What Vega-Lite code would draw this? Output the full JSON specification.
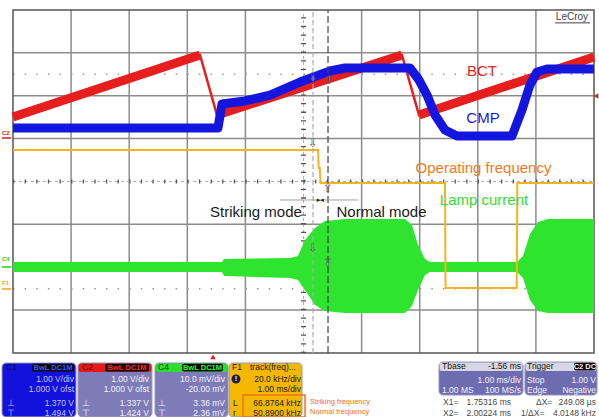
{
"$schema": "https://vega.github.io/schema/vega-lite/v6.json",
"width": 599, "height": 417, "padding": 0,
"autosize": {"type": "none", "contains": "padding"},
"background": "white",
"config": {"view": {"stroke": null}},
"encoding": {
 "x": {"field": "x", "type": "quantitative", "scale": {"domain": [-0.2238, 10.086], "nice": false, "zero": false}, "axis": null},
 "y": {"field": "y", "type": "quantitative", "scale": {"domain": [-5.4927, 4.2332], "nice": false, "zero": false}, "axis": null}
},
"layer": [
 {"data": {"values": [
   {"x":1,"y":-4,"x2":1,"y2":4},{"x":2,"y":-4,"x2":2,"y2":4},{"x":3,"y":-4,"x2":3,"y2":4},{"x":4,"y":-4,"x2":4,"y2":4},
   {"x":6,"y":-4,"x2":6,"y2":4},{"x":7,"y":-4,"x2":7,"y2":4},{"x":8,"y":-4,"x2":8,"y2":4},{"x":9,"y":-4,"x2":9,"y2":4},
   {"x":0,"y":-3,"x2":10,"y2":-3},{"x":0,"y":-2,"x2":10,"y2":-2},{"x":0,"y":-1,"x2":10,"y2":-1},
   {"x":0,"y":1,"x2":10,"y2":1},{"x":0,"y":2,"x2":10,"y2":2},{"x":0,"y":3,"x2":10,"y2":3}]},
  "mark": {"type": "rule", "color": "#8c8c8c", "strokeWidth": 1.5},
  "encoding": {"x2": {"field": "x2"}, "y2": {"field": "y2"}}},
 {"data": {"values": [{"x":0,"y":2.5,"x2":10,"y2":2.5},{"x":0,"y":-2.5,"x2":10,"y2":-2.5}]},
  "mark": {"type": "rule", "color": "#999999", "strokeWidth": 1.5, "strokeDash": [1.5, 10.12]},
  "encoding": {"x2": {"field": "x2"}, "y2": {"field": "y2"}}},
 {"data": {"values": [{"x":0,"y":0,"x2":10,"y2":0},{"x":5,"y":-4,"x2":5,"y2":4}]},
  "mark": {"type": "rule", "color": "#b0b0b0", "strokeWidth": 1, "strokeDash": [3, 3]},
  "encoding": {"x2": {"field": "x2"}, "y2": {"field": "y2"}}},
 {"data": {"values": [{"x":0,"y":0,"x2":10,"y2":0}]},
  "mark": {"type": "rule", "color": "#555555", "strokeWidth": 4, "strokeDash": [1.3, 10.32]},
  "encoding": {"x2": {"field": "x2"}, "y2": {"field": "y2"}}},
 {"data": {"values": [{"x":5,"y":-4,"x2":5,"y2":4}]},
  "mark": {"type": "rule", "color": "#555555", "strokeWidth": 5, "strokeDash": [1.3, 7.275]},
  "encoding": {"x2": {"field": "x2"}, "y2": {"field": "y2"}}},
 {"data": {"values": [{"x":0,"y":-4,"x2":10,"y2":4}]},
  "mark": {"type": "rect", "filled": false, "color": "#555555", "strokeWidth": 1.5},
  "encoding": {"x2": {"field": "x2"}, "y2": {"field": "y2"}}},
 {"data": {"values": [
   {"x":0,"y":-1.878,"y2":-2.111},{"x":3.597,"y":-1.878,"y2":-2.111},{"x":3.632,"y":-1.808,"y2":-2.204},
   {"x":4.768,"y":-1.784,"y2":-2.251},{"x":4.905,"y":-1.738,"y2":-2.297},{"x":5.026,"y":-1.364,"y2":-2.531},
   {"x":5.198,"y":-1.085,"y2":-2.88},{"x":5.37,"y":-0.921,"y2":-3.02},{"x":5.714,"y":-0.875,"y2":-3.067},
   {"x":6.747,"y":-0.875,"y2":-3.067},{"x":6.867,"y":-1.015,"y2":-2.904},{"x":6.971,"y":-1.481,"y2":-2.531},
   {"x":7.091,"y":-1.808,"y2":-2.181},{"x":7.177,"y":-1.878,"y2":-2.111},{"x":8.675,"y":-1.878,"y2":-2.111},
   {"x":8.778,"y":-1.738,"y2":-2.251},{"x":8.898,"y":-1.224,"y2":-2.764},{"x":9.036,"y":-0.945,"y2":-3.02},
   {"x":9.208,"y":-0.875,"y2":-3.067},{"x":10,"y":-0.875,"y2":-3.067}]},
  "mark": {"type": "area", "color": "#2fe42f"},
  "encoding": {"y2": {"field": "y2"}}},
 {"data": {"name": "bct", "values": [
   {"x":0,"y":1.504,"s":"r1"},{"x":3.219,"y":2.95,"s":"r1"},
   {"x":3.511,"y":1.55,"s":"r2"},{"x":6.695,"y":2.95,"s":"r2"},
   {"x":6.988,"y":1.55,"s":"r3"},{"x":10,"y":2.904,"s":"r3"}]},
  "mark": {"type": "line", "color": "#e61e1e", "strokeWidth": 2.5},
  "encoding": {}},
 {"data": {"name": "bct"},
  "mark": {"type": "line", "color": "#e61e1e", "strokeWidth": 9},
  "encoding": {"detail": {"field": "s"}}},
 {"data": {"values": [
   {"x":0,"y":1.248},{"x":3.528,"y":1.248},{"x":3.597,"y":1.808},{"x":3.993,"y":1.878},{"x":4.423,"y":2.017},
   {"x":4.94,"y":2.32},{"x":5.456,"y":2.577},{"x":5.714,"y":2.647},{"x":6.833,"y":2.647},{"x":6.988,"y":2.367},
   {"x":7.126,"y":2.017},{"x":7.264,"y":1.551},{"x":7.435,"y":1.201},{"x":7.642,"y":1.061},{"x":8.589,"y":1.061},
   {"x":8.761,"y":1.668},{"x":8.898,"y":2.251},{"x":9.019,"y":2.554},{"x":9.191,"y":2.624},{"x":10,"y":2.624}]},
  "mark": {"type": "line", "color": "#1515e0", "strokeWidth": 9, "strokeJoin": "round"},
  "encoding": {}},
 {"data": {"values": [
   {"x":0,"y":0.735},{"x":5.25,"y":0.735},{"x":5.262,"y":0.315},{"x":5.28,"y":0.315},{"x":5.292,"y":-0.035},
   {"x":7.435,"y":-0.035},{"x":7.445,"y":-2.484},{"x":8.67,"y":-2.484},{"x":8.68,"y":-0.035},{"x":10,"y":-0.035}]},
  "mark": {"type": "line", "color": "#f5b41e", "strokeWidth": 2},
  "encoding": {}},
 {"data": {"values": [{"x":5.164,"y":-4,"x2":5.164,"y2":4}]},
  "mark": {"type": "rule", "color": "#aaaaaa", "strokeWidth": 1.2, "strokeDash": [5, 3]},
  "encoding": {"x2": {"field": "x2"}, "y2": {"field": "y2"}}},
 {"data": {"values": [{"x":5.422,"y":-4,"x2":5.422,"y2":4}]},
  "mark": {"type": "rule", "color": "#444444", "strokeWidth": 1.2, "strokeDash": [7, 3]},
  "encoding": {"x2": {"field": "x2"}, "y2": {"field": "y2"}}},
 {"data": {"values": [{"x":4.596,"y":-0.431,"x2":5.938,"y2":-0.431}]},
  "mark": {"type": "rule", "color": "#a0a0a0", "strokeWidth": 1},
  "encoding": {"x2": {"field": "x2"}, "y2": {"field": "y2"}}},
 {"data": {"values": [{"x":5.29,"y":-0.431,"t":"▸◂"}]},
  "mark": {"type": "text", "color": "#222222", "fontSize": 7, "align": "center", "baseline": "middle", "font": "DejaVu Sans"},
  "encoding": {"text": {"field": "t"}}},
 {"data": {"values": [
   {"x":5.164,"y":2.437,"t":"⇩"},{"x":5.439,"y":2.367,"t":"⇧"},{"x":5.164,"y":0.898,"t":"⇩"},
   {"x":5.422,"y":-0.152,"t":"⇧"},{"x":5.164,"y":-1.551,"t":"⇩"},{"x":5.422,"y":-1.878,"t":"⇧"}]},
  "mark": {"type": "text", "color": "#666666", "fontSize": 12, "align": "center", "baseline": "middle", "font": "DejaVu Sans"},
  "encoding": {"text": {"field": "t"}}},
 {"data": {"values": [
   {"x":8.072,"y":2.577,"t":"BCT","c":"bct"},{"x":8.09,"y":1.481,"t":"CMP","c":"cmp"},
   {"x":8.098,"y":0.315,"t":"Operating frequency","c":"opf"},{"x":8.107,"y":-0.431,"t":"Lamp current","c":"lamp"},
   {"x":4.182,"y":-0.711,"t":"Striking mode","c":"mode"},{"x":6.343,"y":-0.711,"t":"Normal mode","c":"mode"}]},
  "mark": {"type": "text", "fontSize": 15, "align": "center", "baseline": "middle", "font": "Liberation Sans"},
  "encoding": {"text": {"field": "t"}, "color": {"field": "c", "type": "nominal", "legend": null,
   "scale": {"domain": ["dk","wht","ltb","blu","red","grn","org","gry","cn1","cn2","cn4","lec","bct","cmp","opf","lamp","mode","chr","chg","cho"],
             "range": ["#201800","#f2f2fa","#c4c4ff","#3a5cff","#ff2a2a","#2cff2c","#f07020","#4a4a4a","#000060","#600000","#004400","#444444","#e61e1e","#1a1ad6","#f47a22","#33dd33","#1a1a1a","#e02020","#22cc22","#f0a020"]}}}},
 {"data": {"values": [
   {"x":-0.19,"y":1.13,"t":"C2","c":"chr"},{"x":-0.19,"y":-1.808,"t":"C4","c":"chg"},{"x":-0.19,"y":-2.367,"t":"F1","c":"cho"}]},
  "mark": {"type": "text", "fontSize": 6, "fontWeight": "bold", "align": "left", "baseline": "middle", "font": "Liberation Sans"},
  "encoding": {"text": {"field": "t"}, "color": {"field": "c", "type": "nominal", "legend": null,
   "scale": {"domain": ["dk","wht","ltb","blu","red","grn","org","gry","cn1","cn2","cn4","lec","bct","cmp","opf","lamp","mode","chr","chg","cho"],
             "range": ["#201800","#f2f2fa","#c4c4ff","#3a5cff","#ff2a2a","#2cff2c","#f07020","#4a4a4a","#000060","#600000","#004400","#444444","#e61e1e","#1a1ad6","#f47a22","#33dd33","#1a1a1a","#e02020","#22cc22","#f0a020"]}}}},
 {"data": {"values": [
   {"x":-0.19,"y":1.015,"x2":-0.03,"y2":1.015,"c":"chr"},{"x":-0.19,"y":-1.994,"x2":-0.03,"y2":-1.994,"c":"chg"},
   {"x":-0.19,"y":-2.507,"x2":-0.03,"y2":-2.507,"c":"cho"}]},
  "mark": {"type": "rule", "strokeWidth": 1.5},
  "encoding": {"x2": {"field": "x2"}, "y2": {"field": "y2"}, "color": {"field": "c", "type": "nominal", "legend": null,
   "scale": {"domain": ["dk","wht","ltb","blu","red","grn","org","gry","cn1","cn2","cn4","lec","bct","cmp","opf","lamp","mode","chr","chg","cho"],
             "range": ["#201800","#f2f2fa","#c4c4ff","#3a5cff","#ff2a2a","#2cff2c","#f07020","#4a4a4a","#000060","#600000","#004400","#444444","#e61e1e","#1a1ad6","#f47a22","#33dd33","#1a1a1a","#e02020","#22cc22","#f0a020"]}}}},
 {"data": {"values": [{"x":10.034,"y":1.994}]},
  "mark": {"type": "point", "shape": "triangle-left", "filled": true, "color": "#e61e1e", "size": 30, "opacity": 1},
  "encoding": {}},
 {"data": {"values": [{"x":3.442,"y":-4.093}]},
  "mark": {"type": "point", "shape": "triangle-up", "filled": true, "color": "#e61e1e", "size": 30, "opacity": 1},
  "encoding": {}},
 {"data": {"values": [{"x":9.621,"y":3.837,"t":"LeCroy","c":"lec"}]},
  "mark": {"type": "text", "fontSize": 10, "align": "center", "baseline": "middle", "font": "Liberation Sans"},
  "encoding": {"text": {"field": "t"}, "color": {"field": "c", "type": "nominal", "legend": null,
   "scale": {"domain": ["dk","wht","ltb","blu","red","grn","org","gry","cn1","cn2","cn4","lec","bct","cmp","opf","lamp","mode","chr","chg","cho"],
             "range": ["#201800","#f2f2fa","#c4c4ff","#3a5cff","#ff2a2a","#2cff2c","#f07020","#4a4a4a","#000060","#600000","#004400","#444444","#e61e1e","#1a1ad6","#f47a22","#33dd33","#1a1a1a","#e02020","#22cc22","#f0a020"]}}}},
 {"data": {"values": [{"x":9.33,"y":3.7,"x2":9.93,"y2":3.7}]},
  "mark": {"type": "rule", "color": "#444444", "strokeWidth": 1},
  "encoding": {"x2": {"field": "x2"}, "y2": {"field": "y2"}}},
 {"data": {"values": [
   {"x":-0.189,"x2":1.084,"y":-4.233,"y2":-5.49,"f":"c1"},
   {"x":1.119,"x2":2.392,"y":-4.233,"y2":-5.49,"f":"body"},
   {"x":2.444,"x2":3.701,"y":-4.233,"y2":-5.49,"f":"body"},
   {"x":3.718,"x2":4.974,"y":-4.233,"y2":-5.49,"f":"f1"},
   {"x":7.332,"x2":8.778,"y":-4.21,"y2":-4.98,"f":"body2"},
   {"x":8.812,"x2":10.052,"y":-4.21,"y2":-4.98,"f":"body2"}]},
  "mark": {"type": "rect", "cornerRadius": 4, "stroke": "#9a98b8", "strokeWidth": 1},
  "encoding": {"x2": {"field": "x2"}, "y2": {"field": "y2"}, "fill": {"field": "f", "type": "nominal", "legend": null,
   "scale": {"domain": ["c1","body","c2","c4","f1","body2","head","black"], "range": ["#1212dc","#7e7cb8","#e41a1a","#2ede2e","#f5b800","#6e6cb0","#d6d6e4","#050505"]}}}},
 {"data": {"values": [
   {"x":1.13,"x2":2.381,"y":-4.245,"y2":-4.443,"f":"c2"},
   {"x":2.455,"x2":3.69,"y":-4.245,"y2":-4.443,"f":"c4"},
   {"x":7.343,"x2":8.767,"y":-4.222,"y2":-4.42,"f":"head"},
   {"x":8.823,"x2":10.041,"y":-4.222,"y2":-4.42,"f":"head"},
   {"x":0.327,"x2":1.05,"y":-4.25,"y2":-4.43,"f":"black"},
   {"x":1.583,"x2":2.341,"y":-4.25,"y2":-4.43,"f":"black"},
   {"x":2.909,"x2":3.614,"y":-4.25,"y2":-4.43,"f":"black"},
   {"x":9.656,"x2":10.03,"y":-4.23,"y2":-4.41,"f":"black"}]},
  "mark": {"type": "rect", "cornerRadius": 2},
  "encoding": {"x2": {"field": "x2"}, "y2": {"field": "y2"}, "fill": {"field": "f", "type": "nominal", "legend": null,
   "scale": {"domain": ["c1","body","c2","c4","f1","body2","head","black"], "range": ["#1212dc","#7e7cb8","#e41a1a","#2ede2e","#f5b800","#6e6cb0","#d6d6e4","#050505"]}}}},
 {"data": {"values": [{"x":3.959,"x2":5.026,"y":-4.98,"y2":-5.49}]},
  "mark": {"type": "rect", "filled": false, "color": "#f07020", "strokeWidth": 1.5},
  "encoding": {"x2": {"field": "x2"}, "y2": {"field": "y2"}}},
 {"data": {"values": [{"x":3.838,"y":-4.606}]},
  "mark": {"type": "point", "shape": "circle", "filled": true, "color": "#1a1a50", "size": 80, "opacity": 1},
  "encoding": {}},
 {"data": {"values": [
   {"x":-0.12,"y":-4.327,"t":"C1","c":"cn1"},{"x":1.188,"y":-4.327,"t":"C2","c":"cn2"},{"x":2.496,"y":-4.327,"t":"C4","c":"cn4"},
   {"x":3.769,"y":-4.327,"t":"F1","c":"dk"},{"x":4.079,"y":-4.327,"t":"track(freq)...","c":"dk"},
   {"x":-0.103,"y":-5.166,"t":"⊥","c":"ltb"},{"x":-0.103,"y":-5.399,"t":"⊤","c":"ltb"},
   {"x":1.188,"y":-5.166,"t":"⊥","c":"wht"},{"x":1.188,"y":-5.399,"t":"⊤","c":"wht"},
   {"x":2.496,"y":-5.166,"t":"⊥","c":"wht"},{"x":2.496,"y":-5.399,"t":"⊤","c":"wht"},
   {"x":3.787,"y":-5.166,"t":"L","c":"dk"},{"x":3.787,"y":-5.399,"t":"r","c":"dk"},
   {"x":7.384,"y":-4.303,"t":"Tbase","c":"dk"},{"x":7.384,"y":-4.863,"t":"1.00 MS","c":"wht"},
   {"x":8.847,"y":-4.303,"t":"Trigger","c":"dk"},{"x":8.847,"y":-4.63,"t":"Stop","c":"wht"},{"x":8.847,"y":-4.863,"t":"Edge","c":"wht"},
   {"x":7.401,"y":-5.143,"t":"X1=","c":"gry"},{"x":7.401,"y":-5.399,"t":"X2=","c":"gry"},
   {"x":9.002,"y":-5.143,"t":"ΔX=","c":"gry"},{"x":8.744,"y":-5.399,"t":"1/ΔX=","c":"gry"}]},
  "mark": {"type": "text", "fontSize": 8.5, "align": "left", "baseline": "middle", "font": "Liberation Sans"},
  "encoding": {"text": {"field": "t"}, "color": {"field": "c", "type": "nominal", "legend": null,
   "scale": {"domain": ["dk","wht","ltb","blu","red","grn","org","gry","cn1","cn2","cn4","lec","bct","cmp","opf","lamp","mode","chr","chg","cho"],
             "range": ["#201800","#f2f2fa","#c4c4ff","#3a5cff","#ff2a2a","#2cff2c","#f07020","#4a4a4a","#000060","#600000","#004400","#444444","#e61e1e","#1a1ad6","#f47a22","#33dd33","#1a1a1a","#e02020","#22cc22","#f0a020"]}}}},
 {"data": {"values": [
   {"x":1.05,"y":-4.606,"t":"1.00 V/div","c":"ltb"},{"x":1.05,"y":-4.84,"t":"1.000 V ofst","c":"ltb"},
   {"x":1.05,"y":-5.166,"t":"1.370 V","c":"ltb"},{"x":1.05,"y":-5.399,"t":"1.494 V","c":"ltb"},
   {"x":2.341,"y":-4.606,"t":"1.00 V/div","c":"wht"},{"x":2.341,"y":-4.84,"t":"1.000 V ofst","c":"wht"},
   {"x":2.341,"y":-5.166,"t":"1.337 V","c":"wht"},{"x":2.341,"y":-5.399,"t":"1.424 V","c":"wht"},
   {"x":3.649,"y":-4.606,"t":"10.0 mV/div","c":"wht"},{"x":3.649,"y":-4.84,"t":"-20.00 mV","c":"wht"},
   {"x":3.649,"y":-5.166,"t":"3.36 mV","c":"wht"},{"x":3.649,"y":-5.399,"t":"2.36 mV","c":"wht"},
   {"x":4.957,"y":-4.606,"t":"20.0 kHz/div","c":"dk"},{"x":4.957,"y":-4.84,"t":"1.00 ms/div","c":"dk"},
   {"x":4.957,"y":-5.166,"t":"66.8764 kHz","c":"dk"},{"x":4.957,"y":-5.399,"t":"50.8900 kHz","c":"dk"},
   {"x":8.744,"y":-4.303,"t":"-1.56 ms","c":"dk"},{"x":8.744,"y":-4.63,"t":"1.00 ms/div","c":"wht"},{"x":8.744,"y":-4.863,"t":"100 MS/s","c":"wht"},
   {"x":10.034,"y":-4.63,"t":"1.00 V","c":"wht"},{"x":10.034,"y":-4.863,"t":"Negative","c":"wht"},
   {"x":8.571,"y":-5.143,"t":"1.75316 ms","c":"gry"},{"x":8.571,"y":-5.399,"t":"2.00224 ms","c":"gry"},
   {"x":10.034,"y":-5.143,"t":"249.08 µs","c":"gry"},{"x":10.034,"y":-5.399,"t":"4.0148 kHz","c":"gry"}]},
  "mark": {"type": "text", "fontSize": 8.5, "align": "right", "baseline": "middle", "font": "Liberation Sans"},
  "encoding": {"text": {"field": "t"}, "color": {"field": "c", "type": "nominal", "legend": null,
   "scale": {"domain": ["dk","wht","ltb","blu","red","grn","org","gry","cn1","cn2","cn4","lec","bct","cmp","opf","lamp","mode","chr","chg","cho"],
             "range": ["#201800","#f2f2fa","#c4c4ff","#3a5cff","#ff2a2a","#2cff2c","#f07020","#4a4a4a","#000060","#600000","#004400","#444444","#e61e1e","#1a1ad6","#f47a22","#33dd33","#1a1a1a","#e02020","#22cc22","#f0a020"]}}}},
 {"data": {"values": [
   {"x":0.688,"y":-4.34,"t":"BwL DC1M","c":"blu"},{"x":1.962,"y":-4.34,"t":"BwL DC1M","c":"red"},
   {"x":3.261,"y":-4.34,"t":"BwL DC1M","c":"grn"},{"x":9.843,"y":-4.32,"t":"C2 DC","c":"wht"},
   {"x":3.838,"y":-4.606,"t":"!","c":"wht"}]},
  "mark": {"type": "text", "fontSize": 7.5, "fontWeight": "bold", "align": "center", "baseline": "middle", "font": "Liberation Sans"},
  "encoding": {"text": {"field": "t"}, "color": {"field": "c", "type": "nominal", "legend": null,
   "scale": {"domain": ["dk","wht","ltb","blu","red","grn","org","gry","cn1","cn2","cn4","lec","bct","cmp","opf","lamp","mode","chr","chg","cho"],
             "range": ["#201800","#f2f2fa","#c4c4ff","#3a5cff","#ff2a2a","#2cff2c","#f07020","#4a4a4a","#000060","#600000","#004400","#444444","#e61e1e","#1a1ad6","#f47a22","#33dd33","#1a1a1a","#e02020","#22cc22","#f0a020"]}}}},
 {"data": {"values": [
   {"x":5.112,"y":-5.143,"t":"Striking frequency","c":"org"},{"x":5.112,"y":-5.376,"t":"Normal frequency","c":"org"}]},
  "mark": {"type": "text", "fontSize": 7.5, "align": "left", "baseline": "middle", "font": "Liberation Sans"},
  "encoding": {"text": {"field": "t"}, "color": {"field": "c", "type": "nominal", "legend": null,
   "scale": {"domain": ["dk","wht","ltb","blu","red","grn","org","gry","cn1","cn2","cn4","lec","bct","cmp","opf","lamp","mode","chr","chg","cho"],
             "range": ["#201800","#f2f2fa","#c4c4ff","#3a5cff","#ff2a2a","#2cff2c","#f07020","#4a4a4a","#000060","#600000","#004400","#444444","#e61e1e","#1a1ad6","#f47a22","#33dd33","#1a1a1a","#e02020","#22cc22","#f0a020"]}}}}
]
}
